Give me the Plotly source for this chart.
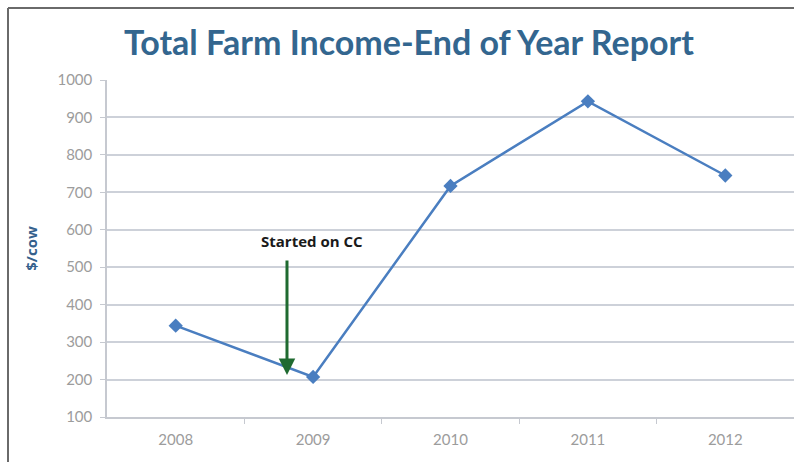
import plotly.graph_objects as go

years = ["2008", "2009", "2010", "2011", "2012"]
income = [344, 207, 717, 943, 745]
y_ticks = [100, 200, 300, 400, 500, 600, 700, 800, 900, 1000]

x_idx = list(range(len(years)))

fig = go.Figure()
fig.add_trace(go.Scatter(
    x=x_idx, y=income, mode="lines+markers",
    line=dict(color="#4a7ec0", width=2.5),
    marker=dict(symbol="diamond", size=11, color="#4a7ec0"),
    hoverinfo="x+y", showlegend=False,
))

fig.add_annotation(
    x=0.81, y=212, ax=0.81, ay=522, xref="x", yref="y", axref="x", ayref="y",
    text="", showarrow=True, arrowhead=2, arrowsize=1.1, arrowwidth=3,
    arrowcolor="#1f6a30",
)
fig.add_annotation(
    x=0.99, y=570, xref="x", yref="y", text="<b>Started on CC</b>",
    showarrow=False, font=dict(family="Open Sans", size=15, color="#1a1a1a"),
)

# frame lines (top and left border of the original picture)
fig.add_shape(type="line", xref="paper", yref="paper",
              x0=-0.1441, x1=-0.1441, y0=-0.2, y1=1.2136,
              line=dict(color="#6a6a6a", width=2))
fig.add_shape(type="line", xref="paper", yref="paper",
              x0=-0.1441, x1=1.2, y0=1.2136, y1=1.2136,
              line=dict(color="#6a6a6a", width=2))

fig.update_layout(
    width=794, height=462,
    margin=dict(l=107, r=0, t=80, b=45),
    paper_bgcolor="white", plot_bgcolor="white",
    title=dict(text="<b>Total Farm Income-End of Year Report</b>",
               x=0.515, xanchor="center", y=1 - 43 / 462, yanchor="middle",
               font=dict(family="Lato", size=34, color="#33668f")),
    xaxis=dict(
        range=[-0.5, 4.5], tickvals=x_idx, ticktext=years,
        showgrid=False, zeroline=False,
        showline=True, linecolor="#c6c9d0", linewidth=1.5,
        ticks="", ticklabelstandoff=8,
        tickfont=dict(family="Lato", size=15, color="#9c9c9c"),
        minor=dict(tickvals=[0.5, 1.5, 2.5, 3.5], ticks="outside",
                   ticklen=5, tickcolor="#c6c9d0", showgrid=False),
    ),
    yaxis=dict(
        range=[100, 1000], tickvals=y_ticks,
        showgrid=True, gridcolor="#cdd1d9", gridwidth=1.5,
        zeroline=False, showline=True, linecolor="#c6c9d0", linewidth=1.5,
        ticks="outside", ticklen=5, tickcolor="#c6c9d0", ticklabelstandoff=5,
        tickfont=dict(family="Lato", size=15, color="#9c9c9c"),
        title=dict(text="<b>$/cow</b>", standoff=16,
                   font=dict(family="Open Sans", size=15, color="#35618d")),
    ),
)

fig.write_html("out.html", config={"displayModeBar": False})
